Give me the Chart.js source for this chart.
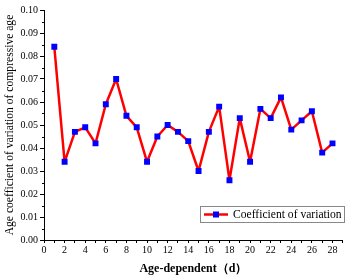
<!DOCTYPE html>
<html>
<head>
<meta charset="utf-8">
<script src="https://cdn.jsdelivr.net/npm/chart.js@4.4.1/dist/chart.umd.min.js"></script>
<style>
  html, body { margin: 0; padding: 0; background: #fff; }
  #box { width: 347px; height: 279px; }
</style>
</head>
<body>
<div id="box"><canvas id="chartCv"></canvas></div>
<script>
'use strict';

// data
const ages = [1, 2, 3, 4, 5, 6, 7, 8, 9, 10, 11, 12, 13, 14, 15, 16, 17, 18, 19, 20, 21, 22, 23, 24, 25, 26, 27, 28];
const cvValues = [0.084, 0.034, 0.047, 0.049, 0.042, 0.059, 0.070, 0.054, 0.049, 0.034, 0.045, 0.050, 0.047, 0.043,
  0.030, 0.047, 0.058, 0.026, 0.053, 0.034, 0.057, 0.053, 0.062, 0.048, 0.052, 0.056, 0.038, 0.042];
const seriesLabel = 'Coefficient of variation';
const xTitle = 'Age-dependent（d）';
const yTitle = 'Age coefficient of variation of compressive age';

const serif = "'Liberation Serif', 'Times New Roman', serif";

// minor ticks on the y axis (every 0.005) and custom legend box
const extras = {
  id: 'extras',
  afterDraw(chart) {
    const ctx = chart.ctx;
    const y = chart.scales.y;
    const area = chart.chartArea;
    ctx.save();
    ctx.strokeStyle = '#000';
    ctx.lineWidth = 1;
    for (let v = 0.005; v < 0.1; v += 0.01) {
      const py = Math.round(y.getPixelForValue(v)) + 0.5;
      ctx.beginPath();
      ctx.moveTo(area.left - 2, py);
      ctx.lineTo(area.left, py);
      ctx.stroke();
    }

    // legend
    const lx = 200, ly = 206, lw = 144, lh = 16;
    ctx.fillStyle = '#fff';
    ctx.fillRect(lx, ly, lw, lh);
    ctx.strokeStyle = '#888';
    ctx.strokeRect(lx + 0.5, ly + 0.5, lw, lh);
    const cy = ly + lh / 2 + 0.5;
    ctx.strokeStyle = '#ff0000';
    ctx.lineWidth = 2.5;
    ctx.beginPath();
    ctx.moveTo(lx + 4, cy);
    ctx.lineTo(lx + 28, cy);
    ctx.stroke();
    ctx.fillStyle = '#0000ff';
    ctx.fillRect(lx + 13, cy - 3, 6, 6);
    ctx.fillStyle = '#000';
    ctx.font = '11.6px ' + serif;
    ctx.textBaseline = 'middle';
    ctx.fillText(seriesLabel, lx + 33, cy);
    ctx.restore();
  }
};

const points = ages.map((a, i) => ({ x: a, y: cvValues[i] }));

new Chart(document.getElementById('chartCv'), {
  type: 'line',
  data: {
    datasets: [{
      label: seriesLabel,
      data: points,
      borderColor: '#ff0000',
      borderWidth: 2.5,
      borderJoinStyle: 'round',
      borderCapStyle: 'round',
      pointStyle: 'rect',
      pointRadius: 4.2,
      pointBackgroundColor: '#0000ff',
      pointBorderColor: '#0000ff',
      pointBorderWidth: 0,
      tension: 0,
      fill: false
    }]
  },
  options: {
    responsive: true,
    maintainAspectRatio: false,
    animation: false,
    layout: { padding: { top: 10, right: 4, left: 0, bottom: 0 } },
    plugins: {
      legend: { display: false },
      tooltip: { enabled: false }
    },
    scales: {
      x: {
        type: 'linear',
        min: 0,
        max: 29,
        afterFit: s => { s.height = 39; },
        border: { color: '#000', width: 1 },
        grid: { drawOnChartArea: false, drawTicks: true, tickLength: 3, color: '#000', tickColor: '#000' },
        ticks: {
          stepSize: 1,
          autoSkip: false,
          maxRotation: 0,
          padding: 1,
          color: '#000',
          font: { family: serif, size: 10 },
          callback: v => (v % 2 === 0 ? String(v) : '')
        },
        title: {
          display: true,
          text: xTitle,
          color: '#000',
          font: { family: serif, size: 12, weight: 'bold' },
          padding: { top: 3, bottom: 3 }
        }
      },
      y: {
        min: 0,
        max: 0.1,
        afterFit: s => { s.width = 44; },
        border: { color: '#000', width: 1 },
        grid: { drawOnChartArea: false, drawTicks: true, tickLength: 4, color: '#000', tickColor: '#000' },
        ticks: {
          stepSize: 0.01,
          autoSkip: false,
          padding: 2,
          color: '#000',
          font: { family: serif, size: 10 },
          callback: v => v.toFixed(2)
        },
        title: {
          display: true,
          text: yTitle,
          color: '#000',
          font: { family: serif, size: 11.6 },
          padding: { top: 3, bottom: 0 }
        }
      }
    }
  },
  plugins: [extras]
});
</script>
</body>
</html>
